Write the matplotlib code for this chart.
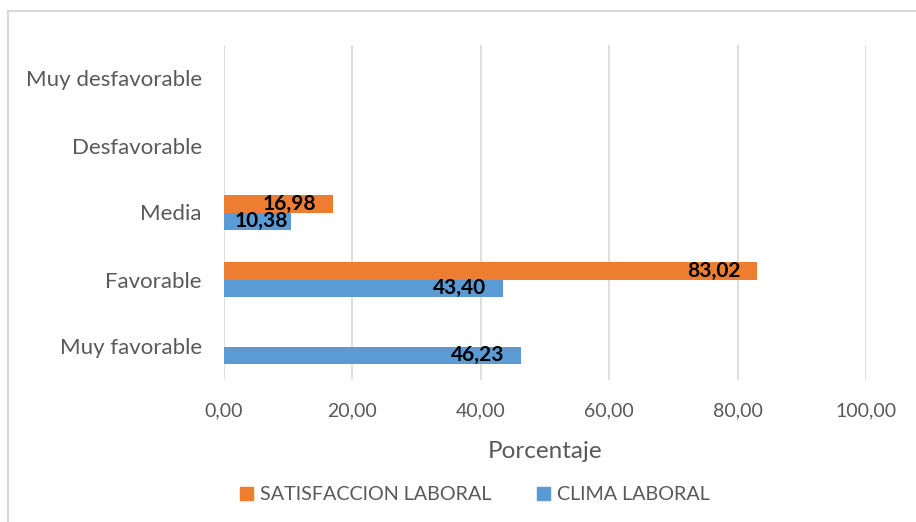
import matplotlib
matplotlib.use("Agg")
import matplotlib.pyplot as plt
from matplotlib.lines import Line2D
from matplotlib.patches import Patch

plt.rcParams['font.family'] = ['Lato', 'DejaVu Sans']

categories = ["Muy favorable", "Favorable", "Media", "Desfavorable", "Muy desfavorable"]
satisfaccion = [None, 83.02, 16.98, None, None]
clima = [46.23, 43.40, 10.38, None, None]
xticks = [0, 20, 40, 60, 80, 100]
xtick_labels = ["0,00", "20,00", "40,00", "60,00", "80,00", "100,00"]

ORANGE = "#ED7D31"
BLUE = "#5B9BD5"
GRAY = "#595959"
GRID = "#D9D9D9"

fig = plt.figure(figsize=(9.16, 5.22), dpi=100)
ax = fig.add_axes([224/916, 1-380/522, (866-224)/916, (380-45)/522])

h = 0.26
ys = list(range(len(categories)))
for y, s, c in zip(ys, satisfaccion, clima):
    if s is not None:
        ax.barh(y + h/2, s, height=h, color=ORANGE, zorder=2)
    if c is not None:
        ax.barh(y - h/2, c, height=h, color=BLUE, zorder=2)

def label(y, v):
    txt = f"{v:.2f}".replace(".", ",")
    if v > 14:
        ax.text(v - 2.6, y, txt, ha="right", va="center", fontsize=15,
                fontweight="bold", color="black", zorder=3)
    else:
        ax.text(v / 2 + 0.6, y, txt, ha="center", va="center", fontsize=15,
                fontweight="bold", color="black", zorder=3)

for y, s, c in zip(ys, satisfaccion, clima):
    if s is not None:
        label(y + h/2, s)
    if c is not None:
        label(y - h/2, c)

ax.set_xlim(0, 100)
ax.set_ylim(-0.5, 4.5)
ax.set_xticks(xticks)
ax.set_xticklabels(xtick_labels, fontsize=14, color=GRAY)
ax.set_yticks(ys)
ax.set_yticklabels(categories, fontsize=16, color=GRAY)
ax.tick_params(axis="both", length=0)
ax.tick_params(axis="x", pad=16)
ax.tick_params(axis="y", pad=16)
ax.grid(axis="x", color=GRID, linewidth=1.2, zorder=0)
ax.set_axisbelow(True)
for sp in ax.spines.values():
    sp.set_visible(False)
ax.set_xlabel("Porcentaje", fontsize=17.5, color=GRAY, labelpad=16)

handles = [Patch(color=ORANGE, label="SATISFACCION LABORAL"),
           Patch(color=BLUE, label="CLIMA LABORAL")]
fig.legend(handles=handles, loc="center", bbox_to_anchor=(475/916, 1-495/522),
           ncol=2, frameon=False, fontsize=14.2, handlelength=0.66, handleheight=0.66,
           columnspacing=2.3, handletextpad=0.35, labelcolor=GRAY,
           borderpad=0, borderaxespad=0)

# chart border (top and left visible)
fig.add_artist(Line2D([8/916, 1], [1-11/522, 1-11/522], color=GRID, lw=1.5,
                      transform=fig.transFigure))
fig.add_artist(Line2D([8/916, 8/916], [0, 1-11/522], color=GRID, lw=1.5,
                      transform=fig.transFigure))

fig.savefig("out.png", dpi=100)
